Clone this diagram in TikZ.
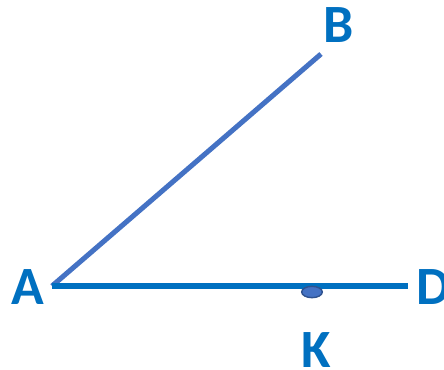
\documentclass[tikz,border=0pt]{standalone}
\usepackage{fontspec}
\setmainfont{Carlito}
\usepackage{xcolor}
\usepackage{tikz}
\usetikzlibrary{shapes.geometric}
\definecolor{rayblue}{HTML}{4472C4}
\definecolor{baseblue}{HTML}{0070C0}
\definecolor{dotedge}{HTML}{2F528F}

\begin{document}
\begin{tikzpicture}[
  x=0.03cm, y=-0.03cm,
  lbl/.style={font=\fontsize{46}{46}\selectfont\bfseries, text=baseblue, inner sep=0pt},
  ray/.style={line width=4.3pt, draw=rayblue},
  base/.style={line width=4.3pt, draw=baseblue},
  dot/.style={ellipse, draw=dotedge, line width=1.2pt, fill=rayblue, minimum width=0.62cm, minimum height=0.34cm, inner sep=0pt}
]
  \useasboundingbox (0,0) rectangle (444,370);

  % 1. Points
  \coordinate (a) at (52,286);
  \coordinate (b) at (321,54);
  \coordinate (d) at (408,286);

  % 2. Rays
  \draw[ray] (a) -- (b);
  \draw[base] (a) -- (d);

  % 3. Point K on AD
  \node[dot] (k) at (312,292) {};

  % 4. Labels
  \node[lbl] (lA) at (28,287) {A};
  \node[lbl] (lB) at (339,25) {B};
  \node[lbl] (lD) at (433,287) {D};
  \node[lbl] (lK) at (316,350) {K};

\end{tikzpicture}
\end{document}
